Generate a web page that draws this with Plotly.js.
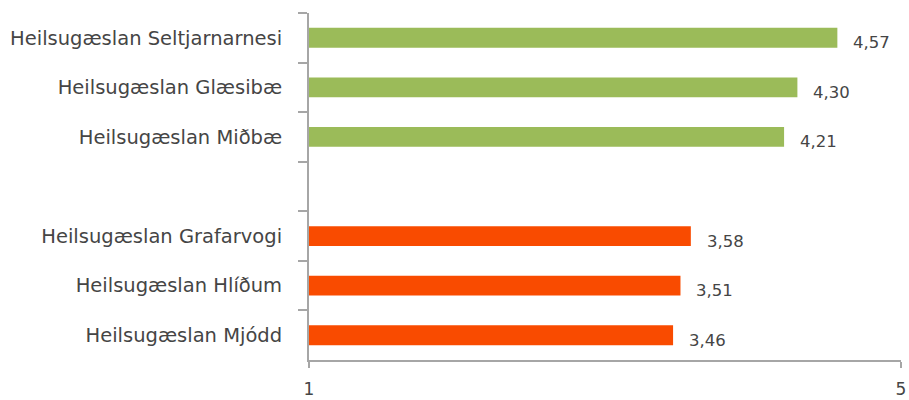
<!DOCTYPE html>
<html>
<head>
<meta charset="utf-8">
<script src="https://cdn.plot.ly/plotly-3.0.1.min.js"></script>
<style>html,body{margin:0;padding:0;background:#fff;}#chart{width:909px;height:400px;}</style>
</head>
<body>
<div id="chart"></div>
<script>
const categories = ["Heilsugæslan Seltjarnarnesi","Heilsugæslan Glæsibæ","Heilsugæslan Miðbæ"," ","Heilsugæslan Grafarvogi","Heilsugæslan Hlíðum","Heilsugæslan Mjódd"];
const greenNames = ["Heilsugæslan Seltjarnarnesi","Heilsugæslan Glæsibæ","Heilsugæslan Miðbæ"];
const greenValues = [4.57, 4.30, 4.21];
const redNames = ["Heilsugæslan Grafarvogi","Heilsugæslan Hlíðum","Heilsugæslan Mjódd"];
const redValues = [3.58, 3.51, 3.46];
const xTicks = [1, 5];

const fmt = v => v.toFixed(2).replace('.', ',');
const textColor = '#454545';
const fam = 'DejaVu Sans, sans-serif';

const traces = [
  {type:'bar', orientation:'h', y: greenNames, x: greenValues.map(v=>v-1), base: 1,
   marker:{color:'#9BBB59'}, hoverinfo:'none'},
  {type:'bar', orientation:'h', y: redNames, x: redValues.map(v=>v-1), base: 1,
   marker:{color:'#F94B00'}, hoverinfo:'none'}
];

const annotations = [];
const addLabels = (names, vals) => names.forEach((n,i)=>annotations.push({
  x: vals[i], y: n, text: fmt(vals[i]), showarrow:false, xanchor:'left', xshift:14, yshift:-5,
  font:{family: fam, size:16.5, color:textColor}}));
addLabels(greenNames, greenValues);
addLabels(redNames, redValues);

const layout = {
  width: 909, height: 400,
  margin: {l: 309, r: 8, t: 13, b: 40, pad: 0},
  paper_bgcolor: '#fff', plot_bgcolor: '#fff',
  showlegend: false,
  barmode: 'overlay',
  bargap: 0.6,
  font: {family: fam, size: 17, color: textColor},
  xaxis: {range: [1, 5], tickvals: xTicks, ticktext: xTicks.map(String), showgrid: false, zeroline: false,
          showline: true, linecolor: '#a6a6a6', linewidth: 2, ticks: 'outside', ticklen: 6, tickwidth: 2, tickcolor: '#a6a6a6',
          ticklabelstandoff: 7,
          tickfont: {family: fam, size: 17, color: textColor}, fixedrange: true},
  yaxis: {type: 'category', categoryorder: 'array', categoryarray: categories, autorange: 'reversed',
          showgrid: false, zeroline: false, showline: true, linecolor: '#a6a6a6', linewidth: 2,
          ticks: 'outside', tickson: 'boundaries', ticklen: 9, tickwidth: 2, tickcolor: '#a6a6a6',
          ticklabelstandoff: 21,
          tickfont: {family: fam, size: 19.5, color: textColor}, fixedrange: true},
  annotations: annotations
};

Plotly.newPlot('chart', traces, layout, {displayModeBar: false, staticPlot: true});
</script>
</body>
</html>
